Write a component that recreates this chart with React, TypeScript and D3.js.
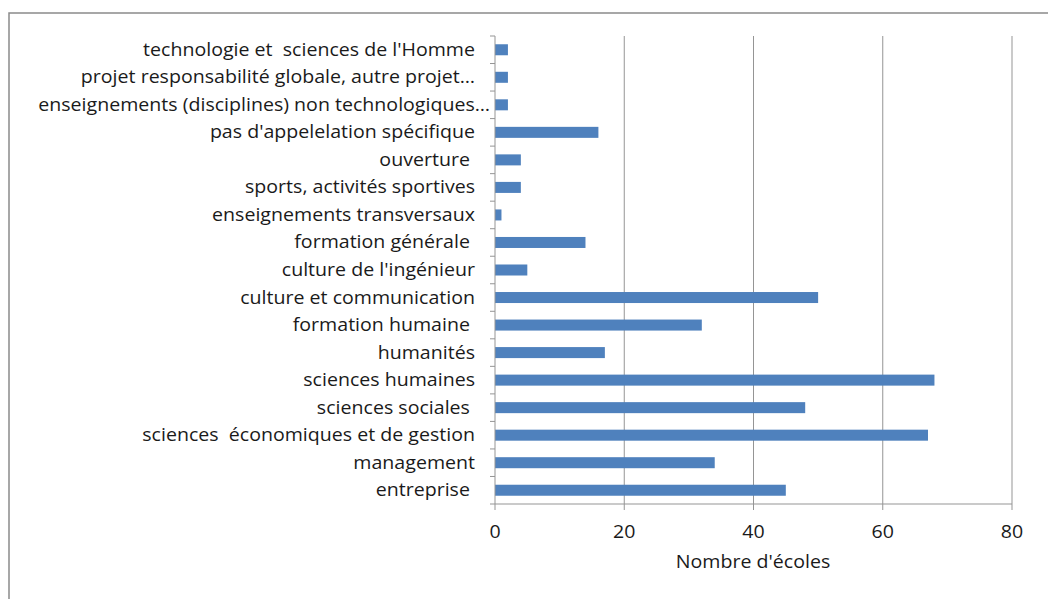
import React from "react";
import * as d3 from "d3";

const categories = [
  "technologie et  sciences de l'Homme",
  "projet responsabilité globale, autre projet…",
  "enseignements (disciplines) non technologiques…",
  "pas d'appelelation spécifique",
  "ouverture ",
  "sports, activités sportives",
  "enseignements transversaux",
  "formation générale ",
  "culture de l'ingénieur",
  "culture et communication",
  "formation humaine ",
  "humanités",
  "sciences humaines",
  "sciences sociales ",
  "sciences  économiques et de gestion",
  "management",
  "entreprise ",
];
const values = [2, 2, 2, 16, 4, 4, 1, 14, 5, 50, 32, 17, 68, 48, 67, 34, 45];
const xTicks = [0, 20, 40, 60, 80];
const xTitle = "Nombre d'écoles";

const W = 1048;
const H = 599;
const M = { left: 495, right: 1012, top: 36, bottom: 504 };
const FONT = "'Open Sans', sans-serif";
const FS = 17.5;
const SX = 1.12;
const GRID = "#959595";
const BAR = "#4f81bd";
const TXT = "#1a1a1a";

function T({ x, y, anchor, children }: { x: number; y: number; anchor: string; children: React.ReactNode }) {
  return (
    <text
      transform={`translate(${x},${y}) scale(${SX},1)`}
      textAnchor={anchor}
      fontFamily={FONT}
      fontSize={FS}
      fill={TXT}
      style={{ whiteSpace: "pre" }}
    >
      {children}
    </text>
  );
}

export default function App() {
  const x = d3.scaleLinear().domain([0, 80]).range([M.left, M.right]);
  const y = d3
    .scaleBand<string>()
    .domain(categories)
    .range([M.top, M.bottom])
    .paddingInner(0.6)
    .paddingOuter(0.3);
  const step = (M.bottom - M.top) / categories.length;
  const boundaries = d3.range(categories.length + 1).map((i) => M.top + i * step);

  return (
    <svg
      width={W}
      height={H}
      style={{ position: "absolute", left: 0, top: 0, background: "#fff" }}
    >
      <rect x={9} y={13} width={1060} height={620} fill="#fff" stroke="#8a8a8a" strokeWidth={1.5} />
      {xTicks.slice(1).map((t) => (
        <line key={t} x1={x(t)} x2={x(t)} y1={M.top} y2={M.bottom} stroke={GRID} strokeWidth={1} />
      ))}
      {categories.map((c, i) => (
        <rect
          key={c}
          x={x(0)}
          y={y(c)!}
          width={x(values[i]) - x(0)}
          height={y.bandwidth()}
          fill={BAR}
        />
      ))}
      <line x1={M.left} x2={M.left} y1={M.top} y2={M.bottom} stroke={GRID} />
      {boundaries.map((b, i) => (
        <line key={i} x1={M.left - 5} x2={M.left} y1={b} y2={b} stroke={GRID} />
      ))}
      <line x1={M.left} x2={M.right} y1={M.bottom} y2={M.bottom} stroke={GRID} />
      {xTicks.map((t) => (
        <g key={t}>
          <line x1={x(t)} x2={x(t)} y1={M.bottom} y2={M.bottom + 6} stroke={GRID} />
          <T x={x(t)} y={M.bottom + 34} anchor="middle">
            {t}
          </T>
        </g>
      ))}
      <T x={753} y={568} anchor="middle">
        {xTitle}
      </T>
      {categories.map((c) => (
        <T
          key={c}
          x={c.endsWith("…") && c.startsWith("enseignements") ? 490 : 475}
          y={y(c)! + y.bandwidth() / 2 + 6}
          anchor="end"
        >
          {c}
        </T>
      ))}
    </svg>
  );
}
